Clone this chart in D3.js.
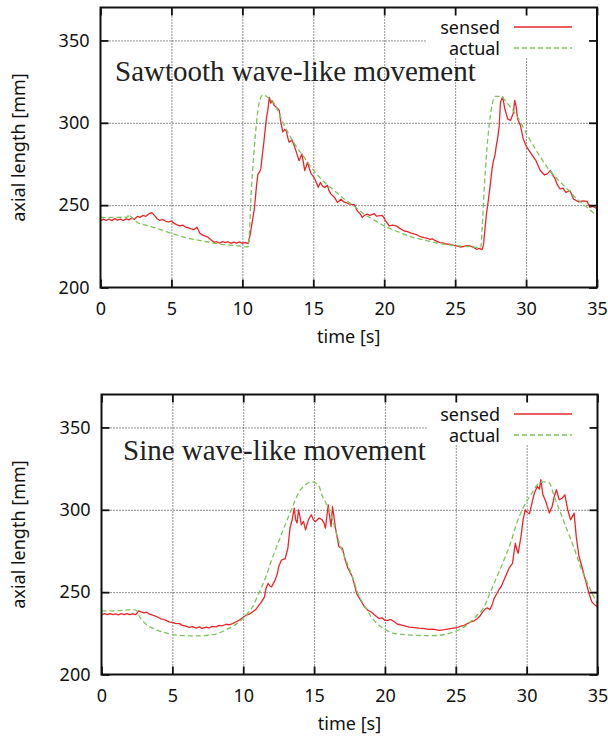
<!DOCTYPE html>
<html><head><meta charset="utf-8">
<script src="https://cdn.jsdelivr.net/npm/d3@7"></script>
<style>
html,body{margin:0;padding:0;background:#fff;}
svg{display:block;}
</style></head>
<body>
<svg id="chart" width="608" height="737"></svg>
<script>
// ---- data ----
const xTicks = [0, 5, 10, 15, 20, 25, 30, 35];
const yTicks = [200, 250, 300, 350];
const seriesNames = ["sensed", "actual"];
const panelTitles = ["Sawtooth wave-like movement", "Sine wave-like movement"];
const xLabel = "time [s]";
const yLabel = "axial length [mm]";

const sawSensed = [[0,240.5],[0.2,241.5],[0.4,240.8],[0.6,241.6],[0.8,240.6],[1.0,241.8],[1.2,240.9],[1.4,241.5],[1.6,240.7],[1.8,241.7],[2.0,241.0],[2.2,242.2],[2.4,241.4],[2.6,243.2],[2.8,242.6],[3.0,243.8],[3.2,243.2],[3.4,244.6],[3.6,245.5],[3.8,243.8],[4.0,241.6],[4.2,240.8],[4.4,241.3],[4.6,240.2],[4.8,239.8],[5.0,240.3],[5.2,238.9],[5.4,238.0],[5.6,237.4],[5.8,237.9],[6.0,236.6],[6.2,236.2],[6.4,235.6],[6.6,235.2],[6.8,236.6],[7.0,233.0],[7.2,231.8],[7.4,231.2],[7.6,230.4],[7.8,228.8],[8.0,227.4],[8.2,227.8],[8.4,226.9],[8.6,227.9],[8.8,227.2],[9.0,227.8],[9.2,226.8],[9.4,227.6],[9.6,227.0],[9.8,227.7],[10.0,226.8],[10.2,227.4],[10.4,226.6],[10.55,232],[10.7,240],[10.85,248],[11.0,262],[11.1,269],[11.2,270],[11.3,272],[11.4,280],[11.5,287],[11.6,295],[11.7,303],[11.8,308],[11.9,315.5],[12.0,312],[12.1,313.5],[12.25,310.5],[12.4,309.5],[12.6,307.5],[12.7,301],[12.85,294.5],[13.0,296],[13.1,295],[13.2,291],[13.3,288.2],[13.5,289.5],[13.7,285],[13.85,281],[14.0,277],[14.2,281],[14.4,271],[14.6,276],[14.75,271.5],[14.85,269],[15.0,267.5],[15.1,266],[15.35,260.8],[15.5,263.8],[15.65,261.5],[15.8,260.8],[16.0,262],[16.1,259],[16.25,256.7],[16.5,254.7],[16.7,251.6],[16.95,253.6],[17.1,252.2],[17.3,251.6],[17.5,250.8],[17.65,250.5],[17.9,250.3],[18.1,246.5],[18.3,244.8],[18.45,242.5],[18.6,243.8],[18.8,244.5],[19.0,243.8],[19.3,244.8],[19.45,243.3],[19.6,243.5],[19.85,243.8],[20.0,242.2],[20.1,240.5],[20.35,237.4],[20.6,237.9],[20.9,237.2],[21.1,235.9],[21.4,234.3],[21.6,234.1],[21.9,233.0],[22.1,232.6],[22.3,232.0],[22.5,231.1],[22.8,230.3],[23.0,230.0],[23.2,229.3],[23.4,229.5],[23.6,228.4],[23.94,227.3],[24.2,227.0],[24.4,226.4],[24.65,226.2],[24.9,225.6],[25.1,225.3],[25.35,224.6],[25.6,224.9],[25.8,225.4],[26.06,225.2],[26.3,224.4],[26.5,223.2],[26.7,223.8],[26.9,223.0],[27.0,226],[27.1,235.4],[27.2,244],[27.35,253.7],[27.5,264],[27.6,272],[27.7,277],[27.8,280],[27.9,286],[28.0,291],[28.1,297.4],[28.2,312.6],[28.35,315.7],[28.5,308.5],[28.7,302.4],[28.9,301.4],[29.1,306],[29.2,313.6],[29.3,310],[29.4,302.4],[29.6,298.4],[29.8,290.2],[30.05,285.2],[30.3,282.1],[30.5,279.5],[30.7,277],[31.0,271],[31.3,268.3],[31.5,269],[31.7,271],[31.9,268],[32.05,265.9],[32.2,262.4],[32.4,259.8],[32.6,260.4],[32.8,257.7],[33.1,258.7],[33.35,253.6],[33.5,253],[33.7,252],[34.0,252.6],[34.3,252.3],[34.5,248.6],[34.7,249.4],[35.0,247.8]];

const sawActual = [[0,242.5],[1,242.6],[1.9,242.7],[2.0,244.5],[2.1,243.5],[2.6,239.5],[3.2,237.8],[3.85,236.2],[5,232.9],[6.2,229.9],[7.4,227.9],[8.6,226.2],[9.8,225.2],[10.4,224.6],[10.5,233],[10.6,253.6],[10.8,280],[11.0,300.4],[11.2,312.6],[11.45,317],[11.7,316],[12.25,311.6],[12.96,298.4],[13.66,287.5],[14.4,278.5],[15,271.3],[15.8,263.8],[16.5,258.7],[17.2,253.6],[17.9,249.2],[18.6,244.5],[19.3,240.9],[20,237.4],[20.7,234.8],[21.4,232.3],[22.1,230.3],[22.8,228.9],[23.4,227.6],[24.65,225.8],[26.06,224.8],[26.8,224.2],[26.9,235.4],[27.05,260],[27.2,280],[27.4,298.4],[27.6,310.6],[27.8,316],[28.2,316],[28.7,311.6],[29.4,303.4],[30.1,292.3],[30.8,282.1],[31.5,273],[32.2,265.9],[32.9,259.8],[33.6,253.6],[34.3,248.6],[35,243.3]];

const sineSensed = [[0,236.2],[0.2,236.9],[0.4,236.3],[0.6,237.0],[0.8,236.4],[1.0,236.8],[1.2,236.2],[1.4,236.9],[1.6,236.4],[1.8,237.0],[2.0,236.3],[2.2,236.8],[2.4,236.4],[2.5,237.2],[2.6,238.6],[2.8,238.0],[3.0,237.4],[3.2,237.8],[3.4,236.6],[3.6,236.0],[3.8,235.4],[3.96,234.9],[4.2,233.8],[4.4,233.4],[4.55,232.9],[4.8,231.8],[5.0,231.6],[5.2,231.0],[5.5,230.9],[5.7,229.8],[5.97,229.3],[6.2,228.6],[6.4,229.0],[6.7,228.2],[6.9,228.9],[7.1,228.0],[7.4,228.7],[7.6,228.2],[7.8,229.2],[8.1,228.9],[8.3,229.8],[8.5,229.5],[8.8,230.5],[9.0,230.2],[9.25,230.9],[9.5,232.0],[9.7,232.9],[9.9,234.2],[10.2,236],[10.4,236.5],[10.65,237.9],[10.9,239.6],[11.1,242],[11.3,244.2],[11.5,247.1],[11.6,252.0],[11.75,255.3],[11.9,253.6],[12.0,253.2],[12.25,257.3],[12.4,261],[12.5,265.4],[12.7,269.5],[12.96,270.3],[13.15,276.6],[13.3,288.8],[13.45,293.9],[13.6,301],[13.7,294],[13.8,292],[13.9,300],[14.0,296],[14.1,290.9],[14.25,293],[14.4,287.8],[14.5,291],[14.6,293.9],[14.8,297],[14.95,294],[15.1,292.8],[15.35,295],[15.55,294],[15.7,292],[15.8,288.8],[16.0,303.0],[16.1,296],[16.2,289.8],[16.3,302],[16.4,296],[16.5,289.5],[16.75,277.6],[17.0,276.6],[17.2,269.5],[17.4,264.4],[17.7,259.3],[17.85,254.5],[18.0,249.2],[18.35,244.1],[18.55,241.3],[18.8,239],[19.05,237.8],[19.3,236],[19.6,233.9],[19.8,234.4],[20.0,232.8],[20.2,232.9],[20.4,233.4],[20.55,232.6],[20.9,230.5],[21.1,230.2],[21.4,229.5],[21.7,228.8],[22.1,228.5],[22.4,228.1],[22.8,227.9],[23.1,227.4],[23.4,227.5],[23.8,226.8],[24.2,227.2],[24.6,227.9],[25.1,228.5],[25.35,229.3],[25.6,229.9],[25.85,231],[26.06,231.9],[26.3,232.6],[26.5,233.9],[26.7,235.5],[26.9,238],[27.1,240],[27.25,240.4],[27.4,239.4],[27.55,242],[27.7,246.1],[27.9,249.2],[28.05,251.6],[28.2,253.3],[28.5,259.3],[28.75,264.4],[28.9,266.3],[29.0,267.5],[29.2,279.7],[29.3,276],[29.4,273.6],[29.6,283.7],[29.75,293.9],[29.9,300],[30.05,298.4],[30.2,297.6],[30.4,305.1],[30.55,310.2],[30.75,314.2],[30.9,312.5],[31.0,318.3],[31.15,309.1],[31.35,305.1],[31.6,298],[31.8,302],[31.95,308.1],[32.1,312.2],[32.3,306.1],[32.5,307],[32.7,309.1],[32.9,300],[33.1,293.9],[33.35,298],[33.5,283.7],[33.7,271.5],[33.9,265.4],[34.15,257.3],[34.4,249.2],[34.6,244.1],[34.8,242.3],[35.0,241.1]];

const sineActual = [[0,238.6],[1,238.7],[2.2,239.4],[2.45,239.0],[2.7,234.9],[3.1,230.9],[3.85,227.2],[4.55,225.2],[5.5,223.8],[6.7,223.4],[7.9,224.2],[8.8,227.2],[9.7,231.9],[10.2,236],[10.65,241.1],[11.1,249.2],[11.6,259.3],[12.0,269.5],[12.5,280.7],[12.96,290.9],[13.4,300],[13.9,310.2],[14.4,315.2],[14.85,316.9],[15.3,315.2],[15.55,309.1],[15.9,303],[16.3,293.9],[16.75,280.7],[17.2,270.5],[17.7,259.3],[18.1,249.2],[18.6,241.1],[19.05,234.9],[19.5,230.5],[20,227.4],[20.7,224.8],[21.4,224.2],[22.1,223.8],[23.4,223.6],[24.65,225.2],[25.6,228.9],[26.5,236],[27,241.1],[27.4,249.2],[27.9,259.3],[28.4,269.5],[28.9,280.7],[29.3,291.9],[29.8,302],[30.3,309.1],[30.75,315.2],[31.2,316.9],[31.6,316.3],[31.95,308.1],[32.4,298],[32.9,286.8],[33.4,275.6],[33.8,265.4],[34.3,255.3],[34.8,246.1],[35,243]];

// ---- drawing ----
const svg = d3.select("#chart");
const SANS = "'Noto Sans', 'Open Sans', sans-serif";
const SERIF = "'Liberation Serif', 'Times New Roman', serif";
const RED = "#e8262a", GREEN = "#7cc458";
const panels = [
  {top: 7.5, bottom: 287.5, xr: [100.5, 597], sensed: sawSensed, actual: sawActual, title: panelTitles[0], titleX: 115, titleY: 81},
  {top: 394.5, bottom: 674.5, xr: [101.5, 597.5], sensed: sineSensed, actual: sineActual, title: panelTitles[1], titleX: 123, titleY: 460}
];

panels.forEach((p, i) => {
  const g = svg.append("g");
  const xRange = p.xr;
  const x = d3.scaleLinear().domain([0, 35]).range(xRange);
  const y = d3.scaleLinear().domain([200, 370]).range([p.bottom, p.top]);
  const w = xRange[1] - xRange[0], h = p.bottom - p.top;

  // grid
  const grid = g.append("g").attr("class", "grid");
  grid.append("g").attr("transform", `translate(0,${p.bottom})`)
    .call(d3.axisBottom(x).tickValues(xTicks.slice(1, -1)).tickSize(-h).tickFormat(""))
    .call(s => s.select(".domain").remove());
  grid.append("g").attr("transform", `translate(${xRange[0]},0)`)
    .call(d3.axisLeft(y).tickValues(yTicks.slice(1)).tickSize(-w).tickFormat(""))
    .call(s => s.select(".domain").remove());
  grid.selectAll("line").attr("stroke", "#222").attr("stroke-width", 1).attr("stroke-dasharray", "1,2");

  // opaque key box
  g.append("rect").attr("x", 427).attr("y", p.top).attr("width", xRange[1] - 427).attr("height", 50.5).attr("fill", "#fff");

  // title
  g.append("text").attr("x", p.titleX).attr("y", p.titleY).attr("font-family", SERIF).attr("font-size", 29)
    .attr("fill", "#222").text(p.title);

  // data lines
  const clipId = "clip" + i;
  g.append("clipPath").attr("id", clipId).append("rect").attr("x", xRange[0]).attr("y", p.top).attr("width", w).attr("height", h);
  const line = d3.line().x(d => x(d[0])).y(d => y(d[1]));
  const smooth = d3.line().x(d => x(d[0])).y(d => y(d[1])).curve(d3.curveMonotoneX);
  const lines = g.append("g").attr("clip-path", `url(#${clipId})`);
  lines.append("path").datum(p.sensed).attr("d", line).attr("fill", "none").attr("stroke", RED).attr("stroke-width", 1.3).attr("stroke-linejoin", "round");
  lines.append("path").datum(p.actual).attr("d", smooth).attr("fill", "none").attr("stroke", GREEN).attr("stroke-width", 1.3).attr("stroke-dasharray", "5,3");

  // axes with inward ticks
  const fontAxis = s => s.attr("font-family", SANS).attr("font-size", 18);
  const styleAxis = s => { s.select(".domain").remove(); s.selectAll(".tick line").attr("stroke", "#111").attr("stroke-width", 1.8); s.selectAll("text").attr("fill", "#111"); };
  g.append("g").attr("transform", `translate(0,${p.bottom})`)
    .call(d3.axisBottom(x).tickValues(xTicks).tickSizeInner(-8).tickSizeOuter(0).tickPadding(15)).call(fontAxis).call(styleAxis);
  g.append("g").attr("transform", `translate(0,${p.top})`)
    .call(d3.axisTop(x).tickValues(xTicks).tickSizeInner(-8).tickSizeOuter(0).tickFormat("")).call(styleAxis);
  g.append("g").attr("transform", `translate(${xRange[0]},0)`)
    .call(d3.axisLeft(y).tickValues(yTicks).tickSizeInner(-8).tickSizeOuter(0).tickPadding(11)).call(fontAxis).call(styleAxis);
  g.append("g").attr("transform", `translate(${xRange[1]},0)`)
    .call(d3.axisRight(y).tickValues(yTicks).tickSizeInner(-8).tickSizeOuter(0).tickFormat("")).call(styleAxis);

  // border
  g.append("rect").attr("x", xRange[0]).attr("y", p.top).attr("width", w).attr("height", h)
    .attr("fill", "none").attr("stroke", "#111").attr("stroke-width", 2);

  // legend
  const leg = g.append("g").attr("font-family", SANS).attr("font-size", 18).attr("fill", "#111");
  [[seriesNames[0], RED, null], [seriesNames[1], GREEN, "5,3"]].forEach((s, k) => {
    const by = p.top + 26.5 + k * 21;
    leg.append("text").attr("x", 500).attr("y", by).attr("text-anchor", "end").text(s[0]);
    const l = leg.append("line").attr("x1", 514).attr("x2", 572).attr("y1", by - 7).attr("y2", by - 7)
      .attr("stroke", s[1]).attr("stroke-width", 1.3);
    if (s[2]) l.attr("stroke-dasharray", s[2]);
  });

  // axis titles
  g.append("text").attr("x", (xRange[0] + xRange[1]) / 2).attr("y", p.bottom + 55)
    .attr("text-anchor", "middle").attr("font-family", SANS).attr("font-size", 18).attr("fill", "#111").text(xLabel);
  g.append("text").attr("transform", `translate(25,${(p.top + p.bottom) / 2}) rotate(-90)`)
    .attr("text-anchor", "middle").attr("font-family", SANS).attr("font-size", 18).attr("fill", "#111").text(yLabel);
});
</script>
</body></html>
